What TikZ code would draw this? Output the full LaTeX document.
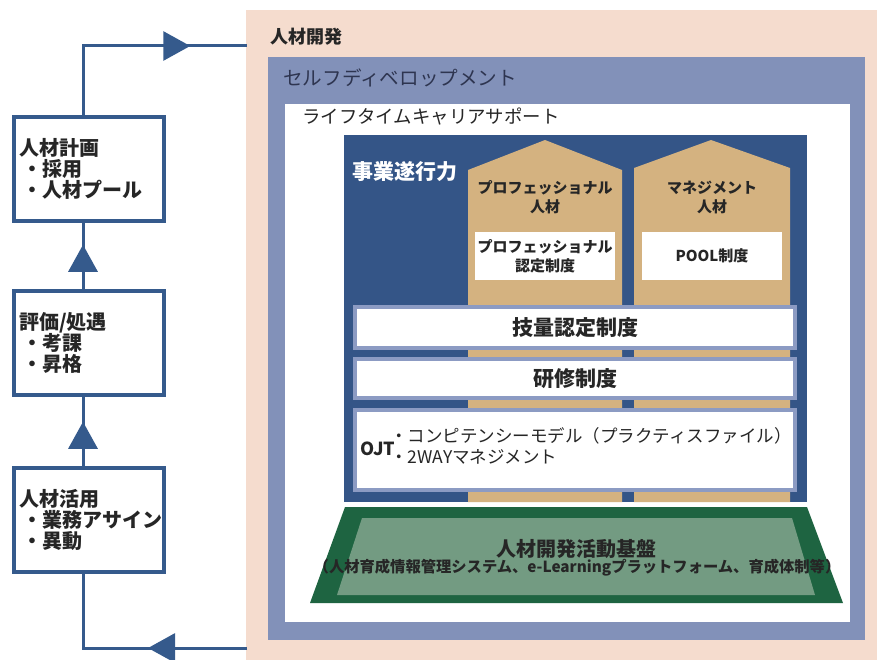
\documentclass[tikz,border=0pt]{standalone}
\usepackage{fontspec}
\setmainfont{Noto Sans CJK JP}
\usetikzlibrary{decorations.markings,arrows.meta}
\definecolor{pinkbg}{HTML}{F5DCCE}
\definecolor{bluegray}{HTML}{8291B9}
\definecolor{barline}{HTML}{8C9BC3}
\definecolor{navybox}{HTML}{345587}
\definecolor{navyline}{HTML}{355A8C}
\definecolor{tanfill}{HTML}{D4B280}
\definecolor{greendark}{HTML}{1E6441}
\definecolor{greenlight}{HTML}{739B82}
\definecolor{textdark}{HTML}{262626}
\definecolor{selftext}{HTML}{2E3550}
\newcommand\fsz[1]{\fontsize{#1}{#1}\selectfont}
\begin{document}
\begin{tikzpicture}[x=1pt,y=-1pt,
  lbox/.style={draw=navyline, line width=4.5pt, fill=white, minimum width=150pt,
    minimum height=104pt, text width=140pt, inner xsep=5pt, align=left,
    font=\fontsize{20}{21}\selectfont\bfseries, text=textdark},
  conn/.style={draw=navyline, color=navyline, line width=3pt},
  midarrow/.style={postaction={decorate}, decoration={markings,
    mark=at position #1 with {\arrow{Triangle[length=27pt,width=29pt]}}}},
  barstyle/.style={fill=white, draw=barline, line width=4pt},
  lbl/.style={inner sep=0pt, text=textdark}
]
\useasboundingbox (0,0) rectangle (877,660);
% frames
\node[fill=pinkbg, minimum width=631pt, minimum height=650pt, anchor=north west,
  inner sep=0pt, outer sep=0pt] (hr) at (246,10) {};
\fill[bluegray] (268,57) rectangle (865,640);
\fill[white] (285,104) rectangle (850,622);
\fill[navybox] (344,135) rectangle (807,502);
\fill[tanfill] (468,502) -- (468,170) -- (545,140) -- (622,170) -- (622,502) -- cycle;
\fill[tanfill] (634,502) -- (634,168) -- (711,140) -- (790,168) -- (790,502) -- cycle;
\fill[white] (475,232) rectangle (615,280);
\fill[white] (642,232) rectangle (782,280);
\draw[barstyle] (355,307) rectangle (795,348);
\draw[barstyle] (355,359) rectangle (795,398);
\draw[barstyle] (355,410) rectangle (795,490);
\fill[greendark] (345,507) -- (807,507) -- (843,603) -- (310,603) -- cycle;
\fill[greenlight] (362,518) -- (792,518) -- (815,595) -- (337,595) -- cycle;
% texts
\node[lbl, anchor=west, font=\fsz{18}\bfseries] (t1) at (270,37) {人材開発};
\node[lbl, anchor=west, font=\fsz{19.6}, text=selftext] (t2) at (283,78) {セルフディベロップメント};
\node[lbl, anchor=west, font=\fsz{18.4}] (t3) at (302,117) {ライフタイムキャリアサポート};
\node[lbl, anchor=west, font=\fsz{21}\bfseries, text=white] (t4) at (352,172) {事業遂行力};
\node[lbl, align=center, font=\fontsize{15}{19}\selectfont\bfseries] (t5) at (545,197) {プロフェッショナル\\人材};
\node[lbl, align=center, font=\fontsize{15}{19}\selectfont\bfseries] (t6) at (712,197) {マネジメント\\人材};
\node[lbl, align=center, font=\fontsize{15}{19}\selectfont\bfseries] (t7) at (545,256) {プロフェッショナル\\認定制度};
\node[lbl, font=\fsz{15}\bfseries] (t8) at (712,256) {POOL制度};
\node[lbl, font=\fsz{21}\bfseries] (t9) at (575,328) {技量認定制度};
\node[lbl, font=\fsz{21}\bfseries] (t10) at (575,379) {研修制度};
\node[lbl, anchor=west, font=\fsz{18}\bfseries] (t11) at (360,449) {OJT};
\node[lbl, anchor=west, align=left, font=\fontsize{17.5}{21}\selectfont] (t12) at (390,446) {・コンピテンシーモデル（プラクティスファイル）\\・2WAYマネジメント};
\node[lbl, font=\fsz{20}\bfseries] (t13) at (576,549) {人材開発活動基盤};
\node[lbl, font=\fsz{15.3}\bfseries] (t14) at (577,568) {（人材育成情報管理システム、e-Learningプラットフォーム、育成体制等）};
% left boxes
\node[lbox] (plan) at (89,169) {人材計画\\\hspace*{3pt}・採用\\\hspace*{3pt}・人材プール};
\node[lbox] (eval) at (89,343) {評価/処遇\\\hspace*{3pt}・考課\\\hspace*{3pt}・昇格};
\node[lbox] (use) at (89,520) {人材活用\\\hspace*{3pt}・業務アサイン\\\hspace*{3pt}・異動};
% connectors
\coordinate (in) at (247,46);
\coordinate (out) at (247,648);
\draw[conn, midarrow=176pt] ([xshift=-6pt]plan.north) |- (in);
\draw[conn, midarrow=44pt] ([xshift=-6pt]eval.north) -- ([xshift=-6pt]plan.south);
\draw[conn, midarrow=44pt] ([xshift=-6pt]use.north) -- ([xshift=-6pt]eval.south);
\draw[conn, midarrow=99pt] (out) -| ([xshift=-6pt]use.south);
\end{tikzpicture}
\end{document}
